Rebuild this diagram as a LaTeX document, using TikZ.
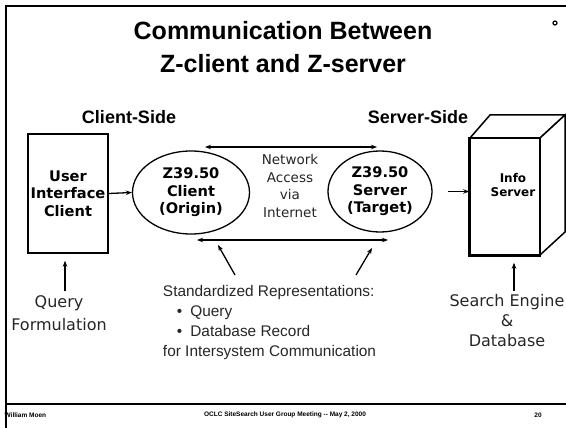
\documentclass[tikz,border=0pt]{standalone}
\usepackage{fontspec}
\setmainfont{Liberation Sans}
\newfontfamily\boxfont{DejaVu Sans}
\usetikzlibrary{shapes.geometric,arrows.meta}

\begin{document}
\begin{tikzpicture}[x=1pt, y=-1pt, line width=1.3pt,
    tip/.style={-{Stealth[length=6pt,width=4.5pt]}},
    both/.style={{Stealth[length=6pt,width=4.5pt]}-{Stealth[length=6pt,width=4.5pt]}},
    boxtext/.style={font=\boxfont\bfseries\fontsize{14.6}{17.5}\selectfont, align=center},
    thin/.style={font=\boxfont\fontsize{16}{20}\selectfont, text=black!85, align=center}]
  \useasboundingbox (0,0) rectangle (566,428);

  % 边框与页脚线
  \draw[line width=2.5pt] (566,6) -- (6,6) -- (6,428);
  \draw[line width=2.5pt] (6,404) -- (566,404);
  \draw[line width=1.2pt] (555,23) circle (2pt);

  % 标题
  \node (title1) at (283,31) {\fontsize{25}{28}\selectfont\bfseries Communication Between};
  \node (title2) at (283,64) {\fontsize{25}{28}\selectfont\bfseries Z-client and Z-server};
  \node (cside) at (129,117) {\fontsize{18}{20}\selectfont\bfseries Client-Side};
  \node (sside) at (418,117) {\fontsize{18}{20}\selectfont\bfseries Server-Side};

  % 客户端一侧
  \node[draw, line width=1.5pt, minimum width=80pt, minimum height=119pt, inner sep=0,
        boxtext] (uic) at (68,193.5) {User\\Interface\\Client};
  \node[ellipse, draw, minimum width=117pt, minimum height=83pt, inner sep=0,
        boxtext] (zc) at (191,192.5) {Z39.50\\Client\\(Origin)};

  % 服务器一侧
  \node[ellipse, draw, minimum width=104pt, minimum height=81pt, inner sep=0,
        boxtext] (zs) at (380,191.5) {Z39.50\\Server\\(Target)};
  \draw[fill=white, line width=1.5pt] (470,138) -- (490,115) -- (565,115) -- (540,138) -- cycle;
  \draw[fill=white, line width=1.5pt] (540,138) -- (565,115) -- (565,232) -- (540,255) -- cycle;
  \node[draw, line width=1.5pt, fill=white, minimum width=70pt, minimum height=117pt,
        inner sep=0] (info) at (505,196.5) {};
  \draw[line width=3pt] (info.north west) -- (info.south west) -- (info.south east);
  \node[boxtext, font=\boxfont\bfseries\fontsize{12}{14.5}\selectfont] (infot) at (513,185) {Info\\Server};

  % 箭头
  \draw[tip] (uic.east) -- (zc.west);
  \draw[tip] ([xshift=15pt]zs.east) -- (info.west |- zs.east);

  % 网络
  \coordinate (na1) at (205,147);
  \coordinate (na2) at (377,147);
  \coordinate (nb1) at (197,240);
  \coordinate (nb2) at (388,240);
  \draw[both] (na1) -- (na2);
  \draw[both] (nb1) -- (nb2);
  \node[thin, font=\boxfont\fontsize{13.5}{17.5}\selectfont] (net) at (290,186) {Network\\Access\\via\\Internet};

  % 标准表示
  \node[thin, font=\fontsize{15.4}{20}\selectfont, align=left, anchor=north west] (std) at (159,281)
    {Standardized Representations:\\
     \hspace*{14pt}\textbullet\hspace{8pt}Query\\
     \hspace*{14pt}\textbullet\hspace{8pt}Database Record\\
     for Intersystem Communication};
  \coordinate (p1) at (235,275);
  \coordinate (p2) at (356,275);
  \draw[tip] (p1) -- (218,245);
  \draw[tip] (p2) -- (372,248);

  % 查询与检索
  \node[thin, font=\boxfont\fontsize{16}{23}\selectfont] (query) at (59,313) {Query\\Formulation};
  \draw[tip] (query.north -| 65,0) -- ([yshift=-7pt]uic.south -| 65,0);
  \node[thin] (engine) at (507,321) {Search Engine\\\&\\Database};
  \draw[tip] (engine.north -| 514,0) -- ([yshift=-7pt]info.south -| 514,0);

  % 页脚
  \node[anchor=west, inner sep=0, font=\fontsize{6.5}{8}\selectfont\bfseries] (author) at (4,415) {William Moen};
  \node[inner sep=0, font=\fontsize{6.5}{8}\selectfont\bfseries] (meet) at (285,415) {OCLC SiteSearch User Group Meeting -{}- May 2, 2000};
  \node[inner sep=0, font=\fontsize{6.5}{8}\selectfont\bfseries] (page) at (538,415) {20};
\end{tikzpicture}
\end{document}
